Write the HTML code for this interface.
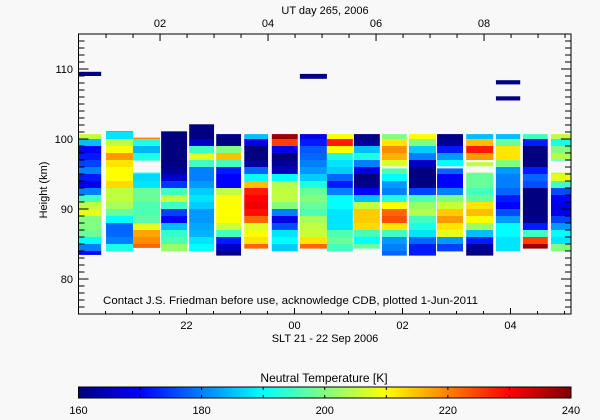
<!DOCTYPE html>
<html><head><meta charset="utf-8"><style>
html,body{margin:0;padding:0;background:#f8f8f8;}
svg{display:block;font-family:"Liberation Sans",sans-serif;}
</style></head><body>
<svg id="chart" width="600" height="420" viewBox="0 0 600 420" xmlns="http://www.w3.org/2000/svg">
<rect x="0" y="0" width="600" height="420" fill="#f8f8f8"/>
<g id="cols"></g>
<g id="axes"></g>
<text x="325" y="14" font-size="11" text-anchor="middle">UT day 265, 2006</text>
<text x="325" y="342" font-size="11" text-anchor="middle">SLT 21 - 22 Sep 2006</text>
<text x="0" y="0" font-size="11" text-anchor="middle" transform="translate(47,190) rotate(-90)">Height (km)</text>
<text x="103" y="304" font-size="11" textLength="375" lengthAdjust="spacingAndGlyphs">Contact J.S. Friedman before use, acknowledge CDB, plotted 1-Jun-2011</text>
<text x="324" y="382" font-size="12" text-anchor="middle">Neutral Temperature [K]</text>
<defs><linearGradient id="jet" x1="0" x2="1" y1="0" y2="0">
<stop offset="0" stop-color="#000080"/><stop offset="0.125" stop-color="#0000ff"/><stop offset="0.375" stop-color="#00ffff"/><stop offset="0.5" stop-color="#80ff80"/><stop offset="0.625" stop-color="#ffff00"/><stop offset="0.875" stop-color="#ff0000"/><stop offset="1" stop-color="#800000"/>
</linearGradient></defs>
<rect x="78.5" y="387" width="492.5" height="11" fill="url(#jet)" stroke="#000" stroke-width="1"/>
<g id="cbar"></g>
</svg>
<script>
// ---- data ----
const colStart = [20.01,20.51,21.01,21.53,22.05,22.55,23.07,23.58,24.10,24.60,25.10,25.62,26.12,26.64,27.18,27.73,28.23,28.75];
const colEnd   = [20.42,21.01,21.51,22.01,22.51,23.01,23.51,24.06,24.60,25.08,25.58,26.08,26.62,27.12,27.68,28.18,28.69,29.12];
const colTop    = [100.7,101.1,100.2,101.1,102.1,100.7,100.7,100.7,100.7,100.7,100.7,100.7,100.7,100.7,100.7,100.7,100.7,100.7];
const colBottom = [83.5,84.0,84.5,84.0,84.0,83.4,84.4,84.0,84.4,84.0,84.4,83.4,83.4,84.0,83.4,84.0,84.4,84.0];
const temps = [
 [205,185,170,172,175,180,172,168,180,195,205,208,200,200,198,190,180,170],
 [180,188,205,210,218,212,210,210,213,205,205,203,198,190,178,178,180,192],
 [220,192,184,192,195,190,187,188,198,198,196,196,197,208,217,219,222],
 [170,160,160,160,160,160,162,166,174,195,205,195,175,170,185,194,196,202],
 [160,160,160,165,195,208,195,180,180,182,186,188,186,182,182,183,184,188,190],
 [160,160,200,215,195,172,170,170,205,210,210,210,210,206,195,172,165,160],
 [185,168,160,160,162,178,190,215,228,230,231,229,222,207,210,212,222],
 [238,225,168,160,162,165,190,204,205,205,200,180,168,176,188,190,186],
 [168,172,177,178,180,182,186,192,198,200,198,196,203,205,206,212,222],
 [210,228,210,192,188,186,178,172,180,190,190,188,188,188,196,198,195],
 [160,162,185,192,180,168,160,161,170,185,205,214,214,213,195,190,198],
 [200,212,219,216,207,196,190,182,180,192,210,222,224,212,195,182,180,178],
 [210,200,186,180,165,160,160,160,175,196,202,204,195,192,188,178,172,172],
 [160,162,172,182,190,178,170,170,180,200,206,214,218,212,208,182,175],
 [185,215,228,218,205,200,198,198,195,198,212,215,210,202,185,172,162,160],
 [185,198,212,212,200,182,180,180,178,172,170,176,182,190,190,188,188],
 [195,172,160,160,160,172,178,176,160,160,160,160,161,172,195,225,238],
 [205,192,200,204,195,205,208,195,176,170,168,168,175,182,190,188,200]
];
// data gaps: [columnIndex, topKm, bottomKm]
const gapCol = [2,11,13,14,14,17];
const gapTop = [96.9,96.1,96.1,97.0,96.1,96.9];
const gapBot = [95.2,95.8,95.8,96.7,95.2,95.2];
// isolated high-altitude measurements
const isoCol = [0,8,15,15];
const isoTop = [109.6,109.3,108.4,106.1];
const isoBot = [109.0,108.6,107.8,105.5];
const isoTemp = [160,160,160,160];
const slTicks = [22,24,26,28];
const slLabels = ["22","00","02","04"];
const utTicks = [2,4,6,8];
const utLabels = ["02","04","06","08"];
const hTicks = [80,90,100,110];
const cbTicks = [160,180,200,220,240];

// ---- scales ----
const X0=78.5,X1=571,Y0=34,Y1=314;
const tMin=20,tMax=29.12,hMin=75,hMax=115,utOff=19.51;
function xs(t){return X0+(t-tMin)*54;}
function ys(h){return Y1-(h-hMin)*7;}
function jet(T){
  let v=Math.max(0,Math.min(1,(T-160)/80));
  const st=[[0,0,0,128],[0.125,0,0,255],[0.375,0,255,255],[0.5,128,255,128],[0.625,255,255,0],[0.875,255,0,0],[1,128,0,0]];
  for(let i=1;i<st.length;i++){if(v<=st[i][0]){const a=st[i-1],b=st[i],f=(v-a[0])/(b[0]-a[0]);
    return `rgb(${Math.round(a[1]+f*(b[1]-a[1]))},${Math.round(a[2]+f*(b[2]-a[2]))},${Math.round(a[3]+f*(b[3]-a[3]))})`;}}
  return 'rgb(128,0,0)';
}
const NS='http://www.w3.org/2000/svg';
function mk(tag,attrs,parent){const e=document.createElementNS(NS,tag);for(const k in attrs)e.setAttribute(k,attrs[k]);parent.appendChild(e);return e;}
const cols=document.getElementById('cols');
for(let c=0;c<temps.length;c++){
  const edges=[colTop[c]];
  let h=Math.floor(colTop[c]); if(h===colTop[c]) h-=1;
  while(h>colBottom[c]){edges.push(h);h-=1;}
  edges.push(colBottom[c]);
  const x=xs(colStart[c]),w=xs(colEnd[c])-x;
  for(let i=0;i<edges.length-1;i++){
    const T=temps[c][Math.min(i,temps[c].length-1)];
    const y=ys(edges[i]),hh=ys(edges[i+1])-y;
    const r=mk('rect',{x:x,y:y,width:w,height:hh+0.4,fill:jet(T)},cols);
    
    
  }
}
for(let g=0;g<gapCol.length;g++){
  const c=gapCol[g],x=xs(colStart[c]);
  const r=mk('rect',{x:x,y:ys(gapTop[g]),width:xs(colEnd[c])-x,height:ys(gapBot[g])-ys(gapTop[g]),fill:'#f8f8f8'},cols);
  
  
}
for(let k=0;k<isoCol.length;k++){
  const c=isoCol[k],x=xs(colStart[c]);
  const r=mk('rect',{x:x,y:ys(isoTop[k]),width:xs(colEnd[c])-x,height:ys(isoBot[k])-ys(isoTop[k]),fill:jet(isoTemp[k])},cols);
  
  
}
// axes
const ax=document.getElementById('axes');
const frame=mk('rect',{x:X0,y:Y0,width:X1-X0,height:Y1-Y0,fill:'none',stroke:'#000','stroke-width':1},ax);


function ln(x1,y1,x2,y2){mk('line',{x1:x1,y1:y1,x2:x2,y2:y2,stroke:'#000','stroke-width':1},ax);}
for(let h=hMin+1;h<hMax;h++){
  const y=ys(h),maj=(h%10===0),L=maj?10:6;
  ln(X0,y,X0+L,y);ln(X1,y,X1-L,y);
}
for(let k=0;k<hTicks.length;k++){
  const t=mk('text',{x:73,y:ys(hTicks[k])+4,'font-size':11,'text-anchor':'end'},ax);
  t.textContent=hTicks[k];
  
  
}
for(let t=20.5;t<tMax;t+=0.5){
  const x=xs(t),maj=slTicks.includes(t);
  ln(x,Y1,x,Y1-(maj?6:3));
}
for(let k=0;k<slTicks.length;k++){
  const t=mk('text',{x:xs(slTicks[k]),y:329,'font-size':11,'text-anchor':'middle'},ax);
  t.textContent=slLabels[k];
  
  
}
for(let u=0.5;u<10;u+=0.5){
  const x=xs(u+utOff); if(x<=X0+1||x>=X1-1) continue;
  const maj=utTicks.includes(u);
  ln(x,Y0,x,Y0+(maj?7:4));
}
for(let k=0;k<utTicks.length;k++){
  const t=mk('text',{x:xs(utTicks[k]+utOff),y:27,'font-size':11,'text-anchor':'middle'},ax);
  t.textContent=utLabels[k];
  
  
}
// colorbar
const cb=document.getElementById('cbar');
for(let k=0;k<cbTicks.length;k++){
  const x=78.5+(cbTicks[k]-160)/80*492.5;
  const t=mk('text',{x:x,y:414,'font-size':11,'text-anchor':'middle'},cb);
  t.textContent=cbTicks[k];
  
  
}
for(let v=170;v<240;v+=10){
  const x=78.5+(v-160)/80*492.5;
  mk('line',{x1:x,y1:387,x2:x,y2:390,stroke:'#000'},cb);
  mk('line',{x1:x,y1:398,x2:x,y2:395,stroke:'#000'},cb);
}
</script>
</body></html>
